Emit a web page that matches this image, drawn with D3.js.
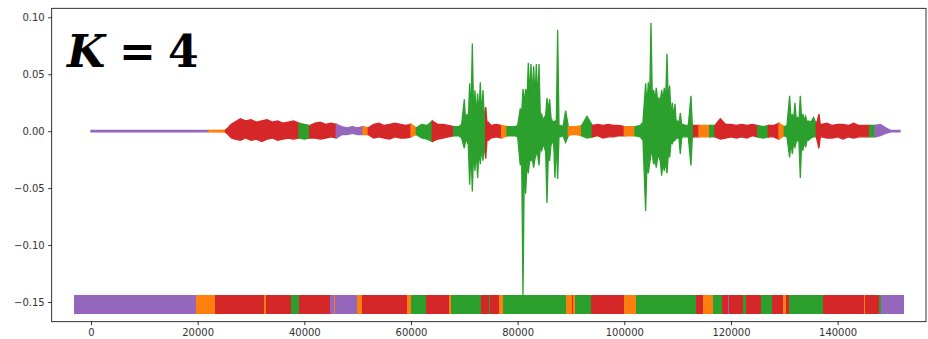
<!DOCTYPE html>
<html>
<head>
<meta charset="utf-8">
<script src="https://cdn.jsdelivr.net/npm/d3@7.9.0/dist/d3.min.js"></script>
<style>
  body { margin: 0; background: #fff; }
  svg { display: block; }
</style>
</head>
<body>
<div id="chart"></div>
<script>
// cluster colours (tab10)
const labelColors = { orange: '#ff7f0e', green: '#2ca02c', red: '#d62728', purple: '#9467bd' };

// waveform envelope: sample position, upper and lower peak (1e-3 units)
// loud parts alternate spike peaks with the level between spikes
const waveX = [
  0, 22000, 25200, 25700, 26300,
  27000, 28000, 29000, 30000, 31000, 32000, 33000, 34000, 35000, 36000, 37000, 38000, 39000,
  40000, 41000, 42000, 43000, 44000, 45000, 46000, 47000, 48000, 49000, 50000, 51000, 52000,
  53000, 54000, 55000, 56000, 57000, 58000, 59000, 60000, 61000, 62000, 63000,
  64000, 65000, 66000, 67000, 68000, 69000, 69500,
  70000, 70250, 70500, 70750, 71000, 71250, 71500, 71750, 72000, 72250,
  72500, 72750, 73000, 73250, 73500, 73750, 74000, 74250, 74500,
  75000, 76000, 77000, 78000, 79000, 79500, 80000,
  80500, 80750, 81000, 81250, 81500, 81750, 82000, 82250, 82500, 82750,
  83000, 83250, 83500, 83750, 84000, 84250, 84500, 84750, 85000, 85250,
  85500, 85750, 86000, 86250, 86500, 86750, 87000, 87250, 87500, 87750,
  88000, 88500, 89000, 89500,
  90000, 91000, 92000, 93000, 94000, 95000, 96000, 97000, 98000, 99000, 100000, 101000, 102000,
  103000, 103500, 104000, 104250, 104500, 104750, 105000, 105250, 105500, 105750,
  106000, 106250, 106500, 106750, 107000, 107250, 107500, 107750, 108000, 108250,
  108500, 108750, 109000, 109250, 109500, 109750, 110000, 110250, 110500, 110750,
  111000, 111500, 112000, 112500, 112750, 113000,
  114000, 115000, 116000, 117000, 118000, 119000, 120000, 121000, 122000, 123000, 124000,
  125000, 126000, 127000, 128000, 129000, 130000,
  130500, 131000, 131250, 131500, 131750, 132000, 132250, 132500, 132750, 133000,
  133250, 133500, 133750, 134000, 134250, 134500, 135000, 135500, 136000, 136500, 136750,
  137000, 138000, 139000, 140000, 141000, 142000, 143000, 144000, 145000, 146000, 147000,
  148000, 149000, 150000, 151700
];
const waveHi = [
  0.6, 0.6, 0.8, 3, 6,
  8, 11, 9, 10, 8, 9, 10, 8, 9, 7, 8, 9, 7,
  6, 5, 7, 8, 6, 7, 6, 4, 3, 4, 3, 4, 3,
  6, 7, 5, 6, 7, 6, 5, 6, 3, 6, 5,
  9, 6, 6, 5, 4, 4, 6,
  28, 8, 15, 10, 42, 14, 77, 14, 36, 14,
  33, 14, 43, 12, 36, 10, 21, 8, 8,
  5, 6, 5, 4, 4, 4, 5,
  20, 15, 37, 25, 37, 28, 60, 30, 59, 30,
  57, 28, 59, 25, 59, 14, 15, 10, 12, 14,
  29, 18, 28, 12, 9, 8, 9, 7, 89, 5,
  5, 4, 18, 4,
  4, 4, 5, 13, 5, 6, 5, 6, 5, 5, 4, 4, 4,
  5, 8, 42, 22, 43, 26, 95, 28, 36, 28,
  38, 26, 29, 26, 36, 28, 38, 26, 68, 24,
  40, 14, 25, 12, 24, 6, 9, 6, 16, 6,
  6, 5, 5, 31, 5, 5,
  5, 5, 5, 5, 11, 6, 6, 5, 6, 5, 6,
  5, 4, 5, 5, 7, 4,
  5, 31, 10, 15, 10, 25, 10, 12, 9, 31,
  10, 15, 9, 13, 8, 9, 8, 12, 6, 15, 6,
  6, 7, 5, 6, 6, 5, 7, 5, 5, 5, 5,
  6, 3, 0.6, 0.6
];
const waveLo = [
  -0.6, -0.6, -0.8, -3, -6,
  -7, -8, -6, -8, -7, -9, -7, -6, -8, -7, -6, -7, -6,
  -7, -6, -6, -7, -6, -5, -6, -3, -3, -2, -3, -3, -3,
  -6, -5, -6, -7, -5, -6, -6, -5, -3, -6, -7,
  -9, -7, -6, -5, -4, -4, -6,
  -15, -8, -9, -12, -47, -16, -53, -16, -35, -16,
  -41, -16, -29, -14, -26, -12, -24, -8, -8,
  -6, -5, -6, -4, -4, -4, -5,
  -30, -20, -144, -30, -55, -28, -37, -26, -26, -24,
  -32, -24, -20, -20, -30, -14, -17, -12, -14, -18,
  -63, -20, -26, -12, -10, -10, -41, -8, -42, -5,
  -5, -4, -10, -4,
  -3, -3, -4, -6, -5, -4, -6, -5, -5, -4, -4, -4, -4,
  -5, -8, -70, -28, -37, -28, -20, -20, -29, -26,
  -32, -22, -23, -26, -39, -28, -35, -26, -37, -20,
  -23, -10, -11, -8, -8, -6, -6, -6, -20, -6,
  -5, -5, -5, -30, -5, -5,
  -5, -5, -5, -5, -7, -6, -5, -6, -5, -6, -4,
  -5, -6, -5, -5, -7, -4,
  -5, -23, -10, -20, -10, -14, -9, -8, -9, -41,
  -10, -17, -9, -14, -8, -8, -6, -5, -5, -15, -5,
  -5, -6, -6, -5, -7, -5, -6, -5, -5, -5, -5,
  -4, -2, -0.6, -0.6
];

// cluster label along the waveform (sample edges)
const waveEdges = [0, 22500, 25700, 39200, 41100, 46700, 51750, 52700, 60900, 61700, 64100,
  68250, 68700, 74060, 77600, 78200, 89800, 92250, 94100, 100500, 102560, 113250, 114750,
  116440, 117940, 119060, 119440, 125440, 127300, 129200, 130125, 136300, 146440, 147560, 151800];
const waveLabels = ['purple','orange','red','green','red','purple','orange','red','orange','green',
  'red','orange','green','red','orange','green','orange','green','red','orange','green','red',
  'orange','green','red','purple','red','green','red','orange','green','red','green','purple'];

// cluster bar at the bottom (sample edges)
const barEdges = [-3244, 19744, 23306, 32438, 32756, 37500, 39056, 44813, 45563, 45806, 49875,
  50756, 59250, 59944, 62756, 67181, 67444, 73125, 74681, 74869, 76556, 77306, 89063, 90131,
  90431, 90750, 93694, 99994, 102131, 113438, 114806, 116569, 118313, 119381, 119681, 122306,
  122756, 125625, 127744, 129694, 130256, 130875, 137250, 144881, 145125, 147806, 148181, 152494];
const barLabels = ['purple','orange','red','orange','red','green','red','purple','orange','purple',
  'orange','red','orange','green','red','orange','green','red','green','red','orange','green',
  'orange','red','orange','green','red','orange','green','red','orange','green','red','purple',
  'red','green','red','green','red','orange','red','green','red','orange','red','green','purple'];
const barLevel = -0.152;
const barHalf = 0.0083;

const xTicks = [0, 20000, 40000, 60000, 80000, 100000, 120000, 140000];
const yTicks = [0.10, 0.05, 0.00, -0.05, -0.10, -0.15];

const width = 928, height = 339;
const plot = { left: 51.7, right: 926, top: 8.3, bottom: 321.7 };

const svg = d3.select('#chart').append('svg')
  .attr('width', width).attr('height', height);

const x = d3.scaleLinear().domain([-7370, 156570]).range([plot.left, plot.right]);
const y = d3.scaleLinear().domain([-0.1673, 0.1079]).range([plot.bottom, plot.top]);

function labelAt(s) {
  let i = d3.bisectRight(waveEdges, s) - 1;
  i = Math.max(0, Math.min(waveLabels.length - 1, i));
  return waveLabels[i];
}

const pts = waveX.map((s, i) => ({ s, hi: waveHi[i] / 1000, lo: waveLo[i] / 1000 }));

// split into runs of one label (runs share their joining point)
const runs = [];
let cur = null;
pts.forEach(p => {
  const lab = labelAt(p.s);
  if (!cur || cur.label !== lab) {
    const prev = cur ? cur.points[cur.points.length - 1] : null;
    cur = { label: lab, points: prev ? [prev] : [] };
    runs.push(cur);
  }
  cur.points.push(p);
});

const area = d3.area()
  .x(d => x(d.s))
  .y0(d => y(d.lo))
  .y1(d => y(d.hi));

svg.append('g').selectAll('path.wave')
  .data(runs)
  .join('path')
  .attr('class', 'wave')
  .attr('d', d => area(d.points))
  .attr('fill', d => labelColors[d.label])
  .attr('stroke', d => labelColors[d.label])
  .attr('stroke-width', 1.3)
  .attr('stroke-linejoin', 'miter');

// cluster bar
const barSegs = barLabels.map((lab, i) => ({ s0: barEdges[i], s1: barEdges[i + 1], label: lab }));
svg.append('g').selectAll('rect')
  .data(barSegs)
  .join('rect')
  .attr('x', d => x(d.s0))
  .attr('width', d => x(d.s1) - x(d.s0))
  .attr('y', y(barLevel + barHalf))
  .attr('height', y(barLevel - barHalf) - y(barLevel + barHalf))
  .attr('fill', d => labelColors[d.label])
  .attr('shape-rendering', 'crispEdges');

// axes
const xAxis = svg.append('g')
  .attr('transform', `translate(0,${plot.bottom})`)
  .call(d3.axisBottom(x).tickValues(xTicks).tickFormat(d3.format('d')).tickSizeOuter(0).tickSize(3.5).tickPadding(3.5));
const yAxis = svg.append('g')
  .attr('transform', `translate(${plot.left},0)`)
  .call(d3.axisLeft(y).tickValues(yTicks).tickFormat(d => d3.format('.2f')(d).replace('-', '\u2212')).tickSizeOuter(0).tickSize(3.5).tickPadding(3.5));
[xAxis, yAxis].forEach(a => {
  a.select('.domain').remove();
  a.selectAll('line').attr('stroke', '#000').attr('stroke-width', 0.8);
  a.selectAll('text').attr('font-size', 10).attr('fill', '#333')
    .style('font-family', '"DejaVu Sans", sans-serif');
});

// frame
svg.append('rect')
  .attr('x', plot.left).attr('y', plot.top)
  .attr('width', plot.right - plot.left).attr('height', plot.bottom - plot.top)
  .attr('fill', 'none').attr('stroke', '#000').attr('stroke-width', 0.8);

// title
const title = svg.append('g')
  .style('font-family', '"DejaVu Serif", serif')
  .style('font-weight', 'bold')
  .style('font-size', '44px');
title.append('text').attr('x', 67).attr('y', 67).style('font-style', 'italic').text('K');
title.append('text').attr('x', 119).attr('y', 67).text('=');
title.append('text').attr('x', 168).attr('y', 67).text('4');
</script>
</body>
</html>
